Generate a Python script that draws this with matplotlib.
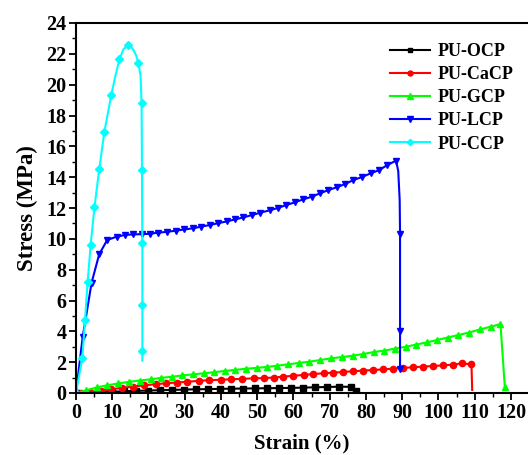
import matplotlib
matplotlib.use("Agg")
import matplotlib.pyplot as plt
from matplotlib.ticker import MultipleLocator

plt.rcParams['font.family'] = ['Liberation Serif', 'DejaVu Serif']
plt.rcParams['font.weight'] = 'bold'

# PU-OCP (black, squares)
ocp_x = [0, 3.4, 6.8, 10.0, 13.2, 16.5, 19.8, 23.1, 26.4, 29.7, 33.0, 36.3, 39.6, 42.9,
         46.2, 49.5, 52.8, 56.1, 59.4, 62.7, 66.0, 69.3, 72.6, 75.9, 77.3]
ocp_y = [0, 0.01, 0.04, 0.08, 0.11, 0.14, 0.16, 0.18, 0.20, 0.22, 0.24, 0.25, 0.27, 0.28,
         0.29, 0.30, 0.31, 0.32, 0.33, 0.35, 0.37, 0.39, 0.41, 0.40, 0.15]

# PU-CaCP (red, circles)
cacp_x = [0, 1.3, 4.0, 6.8, 9.75, 12.8, 15.8, 18.8, 22.0, 24.8, 27.8, 30.7, 34.0, 36.7,
          39.9, 42.7, 45.9, 49.1, 51.8, 54.5, 57.2, 60.0, 62.8, 65.5, 68.3, 70.8, 73.6,
          76.3, 79.1, 81.9, 84.6, 87.4, 90.1, 92.9, 95.6, 98.4, 101.2, 103.9, 106.4,
          109.1, 109.3]
cacp_y = [0, 0.01, 0.05, 0.13, 0.24, 0.34, 0.42, 0.50, 0.57, 0.63, 0.68, 0.73, 0.79, 0.83,
          0.86, 0.89, 0.92, 0.95, 0.97, 1.00, 1.06, 1.12, 1.17, 1.23, 1.28, 1.32, 1.36,
          1.41, 1.45, 1.49, 1.53, 1.58, 1.62, 1.67, 1.71, 1.75, 1.79, 1.84, 1.92,
          1.86, 0.2]

# PU-GCP (green, up triangles)
gcp_x = [0, 2.7, 5.7, 8.6, 11.7, 14.6, 17.6, 20.6, 23.5, 26.6, 29.3, 32.4, 35.3, 38.1,
         41.0, 44.0, 46.8, 49.8, 52.6, 55.4, 58.6, 61.4, 64.4, 67.4, 70.4, 73.3, 76.3,
         79.3, 82.2, 85.1, 88.0, 91.0, 93.8, 96.7, 99.7, 102.5, 105.5, 108.4, 111.4,
         114.4, 117.1, 118.3]
gcp_y = [0, 0.17, 0.36, 0.50, 0.62, 0.72, 0.81, 0.89, 0.98, 1.06, 1.14, 1.21, 1.28, 1.35,
         1.43, 1.50, 1.57, 1.63, 1.69, 1.77, 1.86, 1.95, 2.03, 2.14, 2.25, 2.33, 2.42,
         2.53, 2.66, 2.75, 2.88, 3.00, 3.14, 3.28, 3.44, 3.60, 3.76, 3.92, 4.12,
         4.30, 4.47, 0.41]

# PU-LCP (blue, down triangles)
lcp_x = [0, 1.85, 4.3, 6.4, 8.6, 11.2, 13.5, 15.8, 18.1, 20.4, 22.7, 25.0, 27.6, 29.9,
         32.2, 34.5, 37.0, 39.3, 41.6, 43.9, 46.2, 48.5, 50.8, 53.4, 55.7, 58.0, 60.4,
         62.7, 65.0, 67.3, 69.6, 71.9, 74.2, 76.5, 78.8, 81.3, 83.7, 85.9, 88.3,
         88.9, 89.3, 89.4, 89.4, 89.4]
lcp_y = [0, 3.65, 7.15, 9.0, 9.92, 10.14, 10.25, 10.29, 10.30, 10.33, 10.40, 10.45, 10.53,
         10.61, 10.68, 10.79, 10.90, 11.02, 11.13, 11.26, 11.39, 11.54, 11.69, 11.85,
         12.0, 12.19, 12.37, 12.56, 12.73, 12.95, 13.16, 13.34, 13.55, 13.81, 14.0,
         14.25, 14.46, 14.79, 15.07, 14.4, 12.5, 10.3, 4.05, 1.55]
lcp_marks = [i for i in range(len(lcp_x)) if i not in (39, 40)]

# PU-CCP (cyan, diamonds)
ccp_x = [0, 1.75, 2.5, 3.2, 4.05, 5.1, 6.4, 7.8, 9.7, 10.9, 12.0, 13.1, 14.4, 15.6,
         16.6, 17.2, 17.8, 18.1, 18.2, 18.3, 18.3, 18.3, 18.3]
ccp_y = [0, 2.29, 4.73, 7.18, 9.62, 12.06, 14.5, 16.9, 19.3, 20.6, 21.66, 22.3, 22.57,
         22.35, 21.9, 21.4, 20.6, 18.8, 14.46, 9.75, 5.7, 2.72, 2.1]
ccp_marks = [0, 1, 2, 3, 4, 5, 6, 7, 8, 10, 12, 15, 17, 18, 19, 20, 21]

fig = plt.figure(figsize=(5.28, 4.55), dpi=100)
ax = fig.add_axes([76 / 528, 1 - 393 / 455, 1 - 76 / 528, (393 - 23) / 455])

lw = 1.5
ms = 4.5
ax.plot(ocp_x, ocp_y, color='black', marker='s', ms=ms - 0.5, lw=lw, label='PU-OCP')
ax.plot(cacp_x, cacp_y, color='#ff0000', marker='o', ms=ms, lw=lw,
        markevery=list(range(len(cacp_x) - 1)), label='PU-CaCP')
ax.plot(gcp_x, gcp_y, color='#00ff00', marker='^', ms=ms + 0.5, lw=lw, label='PU-GCP')
ax.plot(lcp_x, lcp_y, color='#0000ff', marker='v', ms=ms + 0.5, lw=lw,
        markevery=lcp_marks, label='PU-LCP')
ax.plot(ccp_x, ccp_y, color='#00ffff', marker='D', ms=ms - 0.5, lw=lw,
        markevery=ccp_marks, label='PU-CCP')

ax.set_xlim(0, 124.7)
ax.set_ylim(0, 24)
ax.xaxis.set_major_locator(MultipleLocator(10))
ax.xaxis.set_minor_locator(MultipleLocator(5))
ax.yaxis.set_major_locator(MultipleLocator(2))
ax.yaxis.set_minor_locator(MultipleLocator(1))
ax.tick_params(which='major', direction='out', length=5, width=1.3, labelsize=14.5, pad=2)
ax.tick_params(which='minor', direction='out', length=3, width=1.0)
ax.spines['right'].set_visible(False)
for s in ('left', 'bottom', 'top'):
    ax.spines[s].set_linewidth(1.5)
for lab in ax.get_xticklabels() + ax.get_yticklabels():
    lab.set_fontweight('bold')

ax.set_xlabel('Strain (%)', fontsize=15, fontweight='bold', labelpad=8)
ax.set_ylabel('Stress (MPa)', fontsize=16.5, fontweight='bold', labelpad=6)

leg = ax.legend(loc='upper right', bbox_to_anchor=(0.995, 0.98), frameon=False,
                prop={'size': 13, 'weight': 'bold'}, handlelength=2.2,
                labelspacing=0.34, handletextpad=0.4, borderaxespad=0.3, markerscale=0.8)

fig.savefig('out.png', dpi=100)
